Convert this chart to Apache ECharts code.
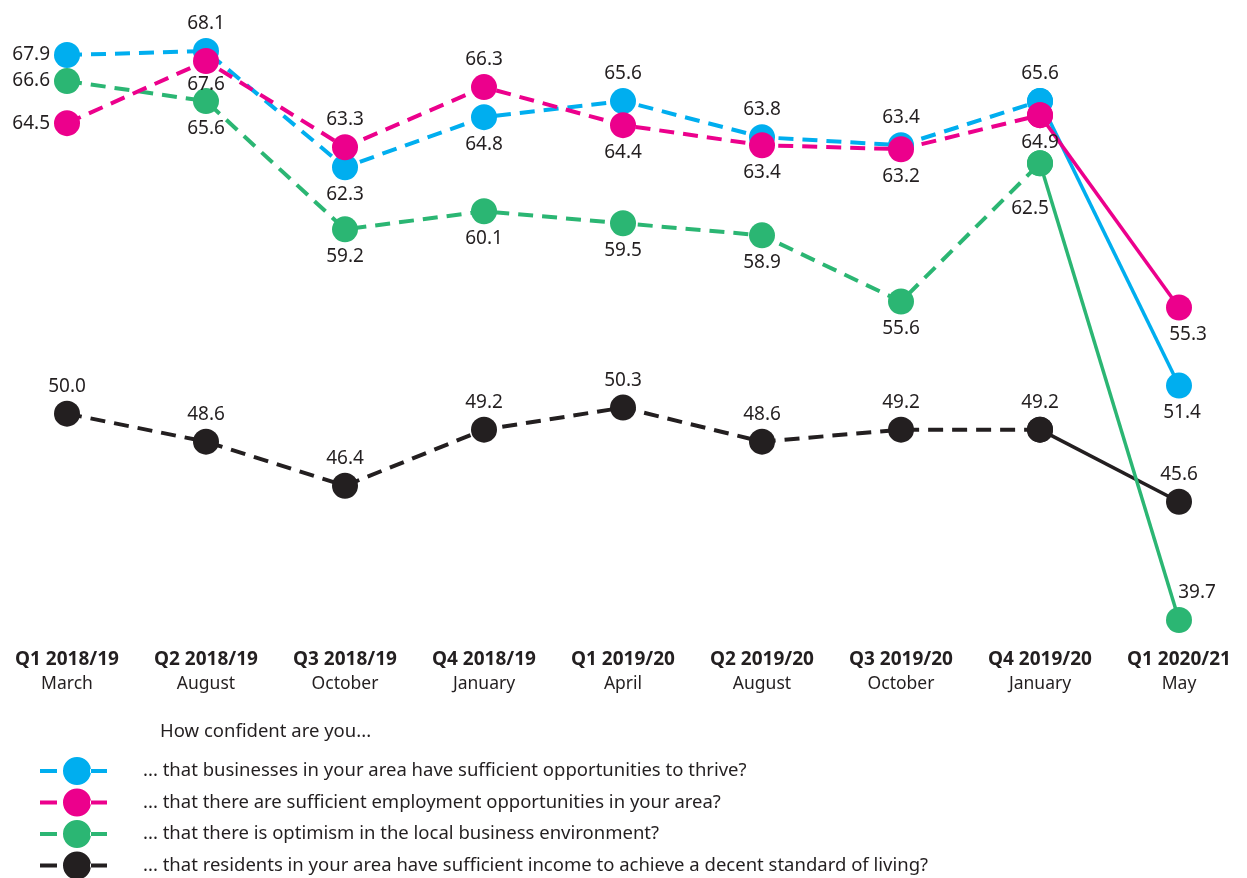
<!DOCTYPE html>
<html>
<head>
<meta charset="utf-8">
<script src="https://cdn.jsdelivr.net/npm/echarts@6/dist/echarts.min.js"></script>
<style>
  html, body { margin: 0; padding: 0; background: #fff; }
  #chart { width: 1247px; height: 878px; }
</style>
</head>
<body>
<div id="chart"></div>
<script>
const quarters = ['Q1 2018/19', 'Q2 2018/19', 'Q3 2018/19', 'Q4 2018/19', 'Q1 2019/20',
  'Q2 2019/20', 'Q3 2019/20', 'Q4 2019/20', 'Q1 2020/21'];
const months = ['March', 'August', 'October', 'January', 'April', 'August', 'October', 'January', 'May'];

const thrive = [67.9, 68.1, 62.3, 64.8, 65.6, 63.8, 63.4, 65.6, 51.4];
const employment = [64.5, 67.6, 63.3, 66.3, 64.4, 63.4, 63.2, 64.9, 55.3];
const optimism = [66.6, 65.6, 59.2, 60.1, 59.5, 58.9, 55.6, 62.5, 39.7];
const income = [50.0, 48.6, 46.4, 49.2, 50.3, 48.6, 49.2, 49.2, 45.6];

const names = [
  '... that businesses in your area have sufficient opportunities to thrive?',
  '... that there are sufficient employment opportunities in your area?',
  '... that there is optimism in the local business environment?',
  '... that residents in your area have sufficient income to achieve a decent standard of living?'
];
const legendTitle = 'How confident are you...';

// label placement per point (style only)
const T = 'top', B = 'bottom', L = 'left';
const lines = [
  {values: thrive, color: '#00aeef', z: 4,
    pos: [L, T, B, B, T, T, T, T, B], offset: {8: [3, 0]}},
  {values: employment, color: '#ec008c', z: 5,
    pos: [L, B, T, T, B, B, B, B, B], offset: {1: [0, -4], 8: [9, 0]}},
  {values: optimism, color: '#2bb673', z: 3,
    pos: [L, B, B, B, B, B, B, B, T], offset: {7: [-10, 18], 8: [18, 0]}},
  {values: income, color: '#231f20', z: 2,
    pos: [T, T, T, T, T, T, T, T, T], offset: {}},
];

const fontFamily = '"Noto Sans", sans-serif';
const labelStyle = {
  show: true,
  color: '#231f20',
  fontSize: 19,
  fontFamily: fontFamily,
  formatter: (p) => Number(p.value).toFixed(1)
};

const pointItem = (line, i, showLabel) => ({
  value: line.values[i],
  label: showLabel ? {
    position: line.pos[i],
    distance: line.pos[i] === L ? 4 : 5,
    offset: line.offset[i] || [0, 0]
  } : {show: false}
});

const series = [];
lines.forEach((line, k) => {
  const last = line.values.length - 1;
  // dashed part
  series.push({
    name: names[k],
    type: 'line',
    z: line.z,
    symbol: 'circle',
    symbolSize: 26,
    color: line.color,
    itemStyle: {color: line.color, borderWidth: 0},
    lineStyle: {color: line.color, width: 4, type: [15, 9]},
    label: labelStyle,
    emphasis: {disabled: true},
    data: line.values.map((v, i) => i < last ? pointItem(line, i, true) : '-')
  });
  // solid last segment
  series.push({
    name: names[k],
    type: 'line',
    z: line.z,
    symbol: 'circle',
    symbolSize: 26,
    color: line.color,
    itemStyle: {color: line.color, borderWidth: 0},
    lineStyle: {color: line.color, width: 3.5, type: 'solid'},
    label: labelStyle,
    emphasis: {disabled: true},
    data: line.values.map((v, i) => i >= last - 1 ? pointItem(line, i, i === last) : '-')
  });
});

const chart = echarts.init(document.getElementById('chart'), null, {renderer: 'canvas'});
chart.setOption({
  animation: false,
  backgroundColor: '#ffffff',
  title: {
    text: legendTitle,
    left: 160,
    top: 722,
    padding: 0,
    textStyle: {fontSize: 18.5, fontWeight: 'normal', color: '#231f20', fontFamily: fontFamily}
  },
  legend: {
    orient: 'vertical',
    left: 40,
    top: 757,
    height: 130,
    padding: 0,
    itemWidth: 67,
    itemHeight: 28,
    itemGap: 3.5,
    selectedMode: false,
    icon: 'path://M0,12h17v4h-17z M23,14a14,14 0 1,0 28,0a14,14 0 1,0 -28,0z M50,12h17v4h-17z',
    itemStyle: {borderWidth: 0},
    textStyle: {fontSize: 18.5, color: '#231f20', fontFamily: fontFamily, padding: [0, 0, 0, 31]},
    data: names
  },
  grid: {left: 67, right: 68, top: 33, bottom: 244, containLabel: false},
  xAxis: {
    type: 'category',
    boundaryGap: false,
    data: quarters.map((q, i) => q + '\n' + months[i]),
    axisLine: {show: false},
    axisTick: {show: false},
    splitLine: {show: false},
    axisLabel: {
      interval: 0,
      margin: 14,
      formatter: (v) => {
        const parts = v.split('\n');
        return '{q|' + parts[0] + '}\n{m|' + parts[1] + '}';
      },
      rich: {
        q: {fontSize: 19, fontWeight: 'bold', color: '#231f20', fontFamily: fontFamily, lineHeight: 24},
        m: {fontSize: 17.5, color: '#231f20', fontFamily: fontFamily, lineHeight: 24}
      }
    }
  },
  yAxis: {
    type: 'value',
    min: 39,
    max: 69,
    show: false,
    splitLine: {show: false}
  },
  series: series
});
</script>
</body>
</html>
